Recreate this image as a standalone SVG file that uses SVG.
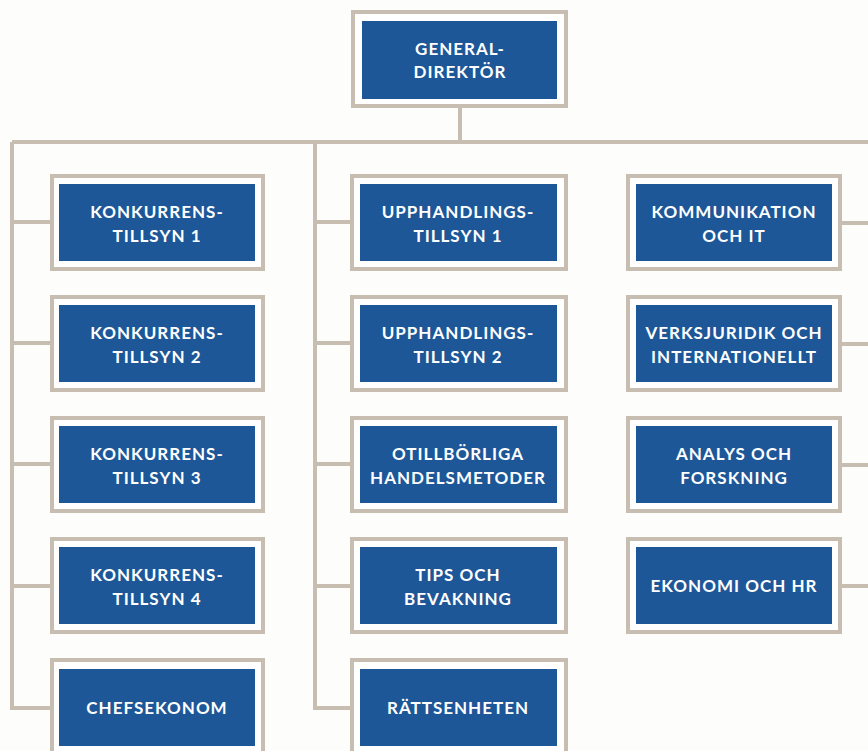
<svg xmlns="http://www.w3.org/2000/svg" width="868" height="751" viewBox="0 0 868 751">
<style>
.bg{fill:#fdfdfb}
.frame{fill:#ffffff;stroke:#c8bdb1;stroke-width:4}
.box{fill:#1d5798}
.lbl{font-family:Lato,"Open Sans","Liberation Sans",sans-serif;font-weight:700;font-size:17px;letter-spacing:1px;fill:#ffffff;text-anchor:middle}
.conn{fill:none;stroke:#c8bdb1;stroke-width:4}
</style>
<rect class="bg" x="0" y="0" width="868" height="751"/>
<g id="connectors">
<path class="conn" d="M460,108 V142 M12,142 H870 M12,142 V708 H50 M12,222 H50 M12,343 H50 M12,464 H50 M12,586 H50 M315,142 V708 H350 M315,222 H350 M315,343 H350 M315,464 H350 M315,586 H350 M842,223 H870 M842,344 H870 M842,465 H870 M842,586 H870"/>
</g>
<g id="gd"><rect class="frame" x="353" y="12" width="213" height="94"/><rect class="box" x="362" y="21" width="195" height="78"/><text class="lbl" x="460" y="55">GENERAL-</text><text class="lbl" x="460" y="78">DIREKTÖR</text></g>
<g id="kt1"><rect class="frame" x="52" y="176" width="211" height="93"/><rect class="box" x="59" y="184" width="196" height="77"/><text class="lbl" x="157" y="218">KONKURRENS-</text><text class="lbl" x="157" y="242">TILLSYN 1</text></g>
<g id="kt2"><rect class="frame" x="52" y="297" width="211" height="93"/><rect class="box" x="59" y="305" width="196" height="77"/><text class="lbl" x="157" y="339">KONKURRENS-</text><text class="lbl" x="157" y="363">TILLSYN 2</text></g>
<g id="kt3"><rect class="frame" x="52" y="418" width="211" height="93"/><rect class="box" x="59" y="426" width="196" height="77"/><text class="lbl" x="157" y="460">KONKURRENS-</text><text class="lbl" x="157" y="484">TILLSYN 3</text></g>
<g id="kt4"><rect class="frame" x="52" y="539" width="211" height="93"/><rect class="box" x="59" y="547" width="196" height="77"/><text class="lbl" x="157" y="581">KONKURRENS-</text><text class="lbl" x="157" y="605">TILLSYN 4</text></g>
<g id="chef"><rect class="frame" x="52" y="660" width="211" height="93"/><rect class="box" x="59" y="669" width="196" height="77"/><text class="lbl" x="157" y="714">CHEFSEKONOM</text></g>
<g id="ut1"><rect class="frame" x="352" y="176" width="214" height="93"/><rect class="box" x="360" y="184" width="197" height="77"/><text class="lbl" x="458" y="218">UPPHANDLINGS-</text><text class="lbl" x="458" y="242">TILLSYN 1</text></g>
<g id="ut2"><rect class="frame" x="352" y="297" width="214" height="93"/><rect class="box" x="360" y="305" width="197" height="77"/><text class="lbl" x="458" y="339">UPPHANDLINGS-</text><text class="lbl" x="458" y="363">TILLSYN 2</text></g>
<g id="oth"><rect class="frame" x="352" y="418" width="214" height="93"/><rect class="box" x="360" y="426" width="197" height="77"/><text class="lbl" x="458" y="460">OTILLBÖRLIGA</text><text class="lbl" x="458" y="484">HANDELSMETODER</text></g>
<g id="tips"><rect class="frame" x="352" y="539" width="214" height="93"/><rect class="box" x="360" y="547" width="197" height="77"/><text class="lbl" x="458" y="581">TIPS OCH</text><text class="lbl" x="458" y="605">BEVAKNING</text></g>
<g id="ratt"><rect class="frame" x="352" y="660" width="214" height="93"/><rect class="box" x="360" y="669" width="197" height="77"/><text class="lbl" x="458" y="714">RÄTTSENHETEN</text></g>
<g id="kom"><rect class="frame" x="628" y="176" width="212" height="93"/><rect class="box" x="636" y="184" width="196" height="77"/><text class="lbl" x="734" y="218">KOMMUNIKATION</text><text class="lbl" x="734" y="242">OCH IT</text></g>
<g id="verk"><rect class="frame" x="628" y="297" width="212" height="93"/><rect class="box" x="636" y="305" width="196" height="77"/><text class="lbl" x="734" y="339">VERKSJURIDIK OCH</text><text class="lbl" x="734" y="363">INTERNATIONELLT</text></g>
<g id="ana"><rect class="frame" x="628" y="418" width="212" height="93"/><rect class="box" x="636" y="426" width="196" height="77"/><text class="lbl" x="734" y="460">ANALYS OCH</text><text class="lbl" x="734" y="484">FORSKNING</text></g>
<g id="eko"><rect class="frame" x="628" y="539" width="212" height="93"/><rect class="box" x="636" y="547" width="196" height="77"/><text class="lbl" x="734" y="592">EKONOMI OCH HR</text></g>
</svg>
